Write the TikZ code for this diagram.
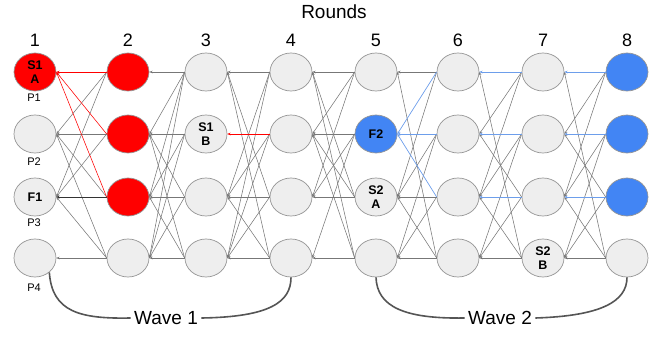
\documentclass[tikz,border=0pt]{standalone}
\usepackage{fontspec}
\setmainfont{Liberation Sans}
\usetikzlibrary{arrows.meta,shapes.geometric}
\definecolor{nodegray}{HTML}{EEEEEE}
\definecolor{rimgray}{HTML}{959595}
\definecolor{edgegray}{HTML}{777777}
\definecolor{leadred}{HTML}{FF0000}
\definecolor{fbblue}{HTML}{4285F4}
\definecolor{edgeblue}{HTML}{6D9EEB}
\definecolor{wavegray}{HTML}{555555}

% labels printed inside particular vertices (column-row)
\expandafter\def\csname vtxt-1-1\endcsname{S1\\A}
\expandafter\def\csname vtxt-1-3\endcsname{F1}
\expandafter\def\csname vtxt-3-2\endcsname{S1\\B}
\expandafter\def\csname vtxt-5-2\endcsname{F2}
\expandafter\def\csname vtxt-5-3\endcsname{S2\\A}
\expandafter\def\csname vtxt-7-4\endcsname{S2\\B}

% edges from column #2 (rows j) back to column #3 (rows i)
\newcommand\refedges[4]{\foreach \j/\i in {#4}{\draw[#1] (c#2r\j.west) -- (c#3r\i.east);}}

\tikzset{
  vtx/.style={ellipse, minimum width=42pt, minimum height=38pt, inner sep=0pt,
    draw=rimgray, line width=0.7pt, fill=nodegray, align=center,
    font=\fontsize{12.5}{14.5}\selectfont\bfseries},
  look-1-1/.style={fill=leadred},
  look-2-1/.style={fill=leadred},
  look-2-2/.style={fill=leadred},
  look-2-3/.style={fill=leadred},
  look-5-2/.style={fill=fbblue},
  look-8-1/.style={fill=fbblue},
  look-8-2/.style={fill=fbblue},
  look-8-3/.style={fill=fbblue},
  ref/.style={draw=edgegray, line width=0.55pt, -{Stealth[length=3.2pt,width=2.6pt]}},
  redref/.style={ref, draw=leadred},
  blueref/.style={ref, draw=edgeblue, line width=0.7pt},
  darkref/.style={ref, draw=black!80},
  wave/.style={draw=wavegray, line width=1.6pt},
  roundnum/.style={font=\fontsize{18}{20}\selectfont},
  proc/.style={font=\fontsize{11}{13}\selectfont},
}

\begin{document}
\begin{tikzpicture}[x=1pt,y=1pt]
\useasboundingbox (0,0) rectangle (667,337);

% vertices
\foreach \c/\x in {1/35,2/128,3/206,4/291,5/376,6/458,7/543,8/627}{
  \foreach \r/\y in {1/265,2/203,3/140,4/79}{
    \node[vtx, look-\c-\r/.try] (c\c r\r) at (\x,\y) {\csname vtxt-\c-\r\endcsname};
  }
  \node[roundnum] (n\c) at (\x,297) {\c};
}
\node[font=\fontsize{19}{21}\selectfont] (rounds) at (334,325) {Rounds};

% process names
\node[proc] (p1) at (34,239) {P1};
\node[proc] (p2) at (34,175) {P2};
\node[proc] (p3) at (34,114) {P3};
\node[proc] (p4) at (34,49) {P4};

% round 2 -> round 1
\refedges{ref}{2}{1}{1/2,1/3,2/2,2/3,3/2,4/2,4/3,4/4}
\refedges{darkref}{2}{1}{3/3}
\refedges{redref}{2}{1}{1/1,2/1,3/1}
% round 3 -> round 2
\refedges{ref}{3}{2}{1/1,1/2,1/3,1/4,2/2,2/3,2/4,3/2,3/3,3/4,4/2,4/3,4/4}
% round 4 -> round 3
\refedges{ref}{4}{3}{1/1,1/3,1/4,2/3,2/4,3/1,3/3,3/4,4/1,4/3,4/4}
\refedges{redref}{4}{3}{2/2}
% round 5 -> round 4
\refedges{ref}{5}{4}{1/1,1/2,1/3,2/2,2/3,2/4,3/1,3/2,3/3,4/1,4/2,4/4}
% round 6 -> round 5
\refedges{ref}{6}{5}{1/1,1/3,2/3,2/4,3/3,3/4,4/1,4/3,4/4}
\refedges{blueref}{6}{5}{1/2,2/2,3/2}
% round 7 -> round 6
\refedges{ref}{7}{6}{1/2,1/3,2/3,2/4,3/2,3/4,4/1,4/3,4/4}
\refedges{blueref}{7}{6}{1/1,2/2,3/3}
% round 8 -> round 7
\refedges{ref}{8}{7}{1/2,1/3,2/3,2/4,3/2,3/4,4/1,4/3,4/4}
\refedges{blueref}{8}{7}{1/1,2/2,3/3}

% waves
\node[font=\fontsize{19}{21}\selectfont] (w1) at (166,19) {Wave 1};
\node[font=\fontsize{19}{21}\selectfont] (w2) at (500,19) {Wave 2};
\draw[wave] (c1r4.-45) .. controls (52,25) and (80,18) .. (w1.west);
\draw[wave] (w1.east) .. controls (270,20) and (291,35) .. (c4r4.south);
\draw[wave] (c5r4.south) .. controls (377,30) and (405,18) .. (w2.west);
\draw[wave] (w2.east) .. controls (600,21) and (627,35) .. (c8r4.south);
\end{tikzpicture}
\end{document}
